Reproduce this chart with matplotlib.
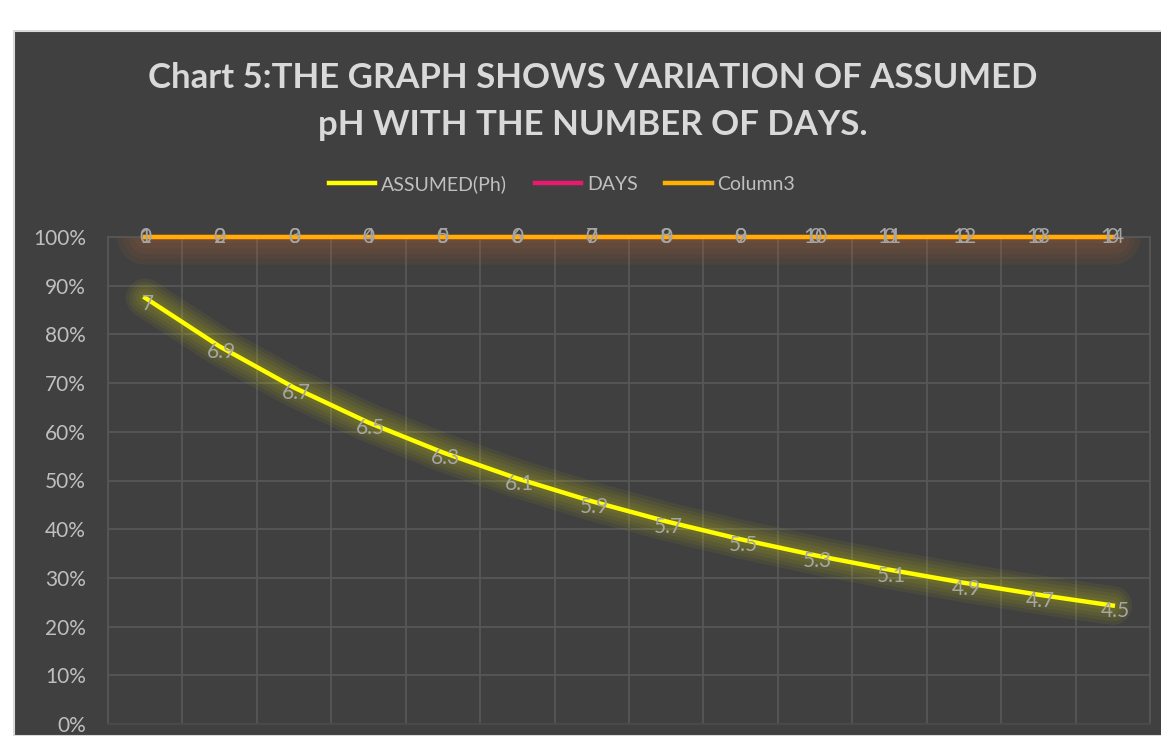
import matplotlib
matplotlib.use('Agg')
import matplotlib.pyplot as plt
from matplotlib.patches import Rectangle
from matplotlib.ticker import FuncFormatter

# values from the table behind the chart (100% stacked line)
days = [1, 2, 3, 4, 5, 6, 7, 8, 9, 10, 11, 12, 13, 14]
ph = [7, 6.9, 6.7, 6.5, 6.3, 6.1, 5.9, 5.7, 5.5, 5.3, 5.1, 4.9, 4.7, 4.5]
column3 = [0] * 14

BG = '#404040'
TXT = '#bfbfbf'
GRID = '#575757'


def main():
    totals = [p + d + c for p, d, c in zip(ph, days, column3)]
    ph_pct = [p / t for p, t in zip(ph, totals)]
    days_pct = [(p + d) / t for p, d, t in zip(ph, days, totals)]
    col3_pct = [(p + d + c) / t for p, d, c, t in zip(ph, days, column3, totals)]
    x = list(range(len(days)))

    fig = plt.figure(figsize=(11.61, 7.36), dpi=100)
    fig.patch.set_facecolor('white')
    W, H = 1161, 736
    fig.patches.append(Rectangle((14 / W, 0), 1 - 14 / W + 0.01, 1 - 31 / H,
                                 transform=fig.transFigure, facecolor=BG,
                                 edgecolor='#d9d9d9', linewidth=1.5, zorder=-10))

    ax = fig.add_axes([108 / W, 12 / H, (1150 - 108) / W, (724 - 237) / H])
    ax.set_zorder(1)
    ax.set_facecolor(BG)
    ax.set_xlim(-0.5, len(days) - 0.5)
    ax.set_ylim(0, 1)

    ax.set_yticks([i / 10 for i in range(11)])
    ax.yaxis.set_major_formatter(FuncFormatter(lambda v, p: f'{int(round(v * 100))}%'))
    ax.set_xticks([i - 0.5 for i in range(len(days) + 1)])
    ax.set_xticklabels([])
    ax.tick_params(length=0, colors=TXT, labelsize=15, pad=16)
    for lab in ax.get_yticklabels():
        lab.set_family('Lato')
    ax.grid(True, color=GRID, linewidth=1.3)
    for s in ax.spines.values():
        s.set_color(GRID)
        s.set_linewidth(1.3)
    ax.spines['bottom'].set_color('#4a4a4a')

    # soft glow under the lines
    for w in [28, 23, 18, 13, 8]:
        ax.plot(x, ph_pct, color='#ffff00', linewidth=w, alpha=0.05,
                solid_capstyle='round', solid_joinstyle='round', zorder=2)
    for w in [40, 32, 24, 16, 8]:
        ax.plot(x, col3_pct, color='#ec742c', linewidth=w, alpha=0.06,
                solid_capstyle='round', zorder=2)

    ax.plot(x, ph_pct, color='#ffff00', linewidth=3.2, label='ASSUMED(Ph)',
            solid_joinstyle='round', zorder=4, clip_on=False)
    ax.plot(x, days_pct, color='#e8196f', linewidth=3.2, label='DAYS', zorder=4, clip_on=False)
    ax.plot(x, col3_pct, color='#ffb000', linewidth=3.2, label='Column3', zorder=5, clip_on=False)

    for xi, yi, v in zip(x, ph_pct, ph):
        ax.text(xi + 0.03, yi - 0.012, f'{v:g}', color='#a6a6a6', fontsize=15,
                family='Lato', ha='center', va='center', zorder=6)
    for xi, yi, d in zip(x, days_pct, days):
        ax.text(xi, yi, str(d), color='#a6a6a6', fontsize=15, family='Lato',
                ha='center', va='center', zorder=6, clip_on=False)
    for xi, yi, c in zip(x, col3_pct, column3):
        ax.text(xi, yi, str(c), color='#a6a6a6', fontsize=15, family='Lato',
                ha='center', va='center', zorder=6, clip_on=False)

    fig.text(593 / W, 1 - 78 / H, 'Chart 5:THE GRAPH SHOWS VARIATION OF ASSUMED',
             color='#d9d9d9', fontsize=25, fontweight='bold', family='Lato',
             ha='center', va='center')
    fig.text(593 / W, 1 - 125 / H, 'pH WITH THE NUMBER OF DAYS.',
             color='#d9d9d9', fontsize=25, fontweight='bold', family='Lato',
             ha='center', va='center')

    leg = ax.legend(loc='center', bbox_to_anchor=(562 / W, 1 - 184 / H),
                    bbox_transform=fig.transFigure, ncol=3, frameon=False,
                    handlelength=2.4, columnspacing=1.4,
                    handletextpad=0.3, prop={'family': 'Lato', 'size': 14})
    for t in leg.get_texts():
        t.set_color(TXT)

    fig.savefig('out.png', dpi=100, facecolor=fig.get_facecolor())


if __name__ == '__main__':
    main()
